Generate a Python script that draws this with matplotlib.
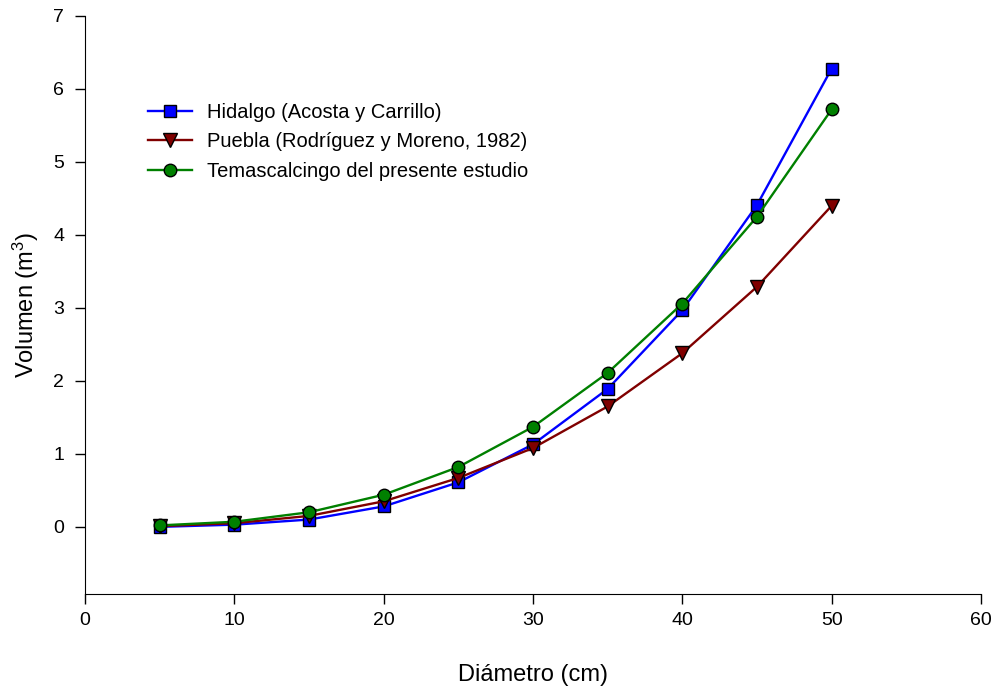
import matplotlib
matplotlib.use("Agg")
import matplotlib.pyplot as plt

plt.rcParams['font.family'] = ['Liberation Sans', 'DejaVu Sans']
plt.rcParams['mathtext.default'] = 'regular'

diametro = [5, 10, 15, 20, 25, 30, 35, 40, 45, 50]
hidalgo = [0.00, 0.03, 0.10, 0.28, 0.61, 1.13, 1.89, 2.97, 4.41, 6.28]
puebla = [0.01, 0.05, 0.15, 0.35, 0.67, 1.08, 1.65, 2.38, 3.29, 4.40]
temasc = [0.02, 0.07, 0.20, 0.44, 0.82, 1.37, 2.11, 3.06, 4.25, 5.72]

labels = ["Hidalgo (Acosta y Carrillo)",
          "Puebla (Rodríguez y Moreno, 1982)",
          "Temascalcingo del presente estudio"]
xticks = [0, 10, 20, 30, 40, 50, 60]
yticks = [0, 1, 2, 3, 4, 5, 6, 7]

fig = plt.figure(figsize=(9.95, 6.9), dpi=100)
ax = fig.add_axes([85/995, (690-594)/690, (981-85)/995, (594-16)/690])

ax.plot(diametro, hidalgo, color='#0000ff', lw=1.7, marker='s', ms=8.5,
        mfc='#0000ff', mec='black', mew=1.0, label=labels[0], zorder=3)
ax.plot(diametro, puebla, color='#800000', lw=1.7, marker='v', ms=10,
        mfc='#800000', mec='black', mew=1.0, label=labels[1], zorder=3)
ax.plot(diametro, temasc, color='#008000', lw=1.7, marker='o', ms=9,
        mfc='#008000', mec='black', mew=1.0, label=labels[2], zorder=4)

ax.set_xlim(0, 60)
ax.set_ylim(-0.92, 7)
ax.set_xticks(xticks)
ax.set_yticks(yticks)
ax.spines['top'].set_visible(False)
ax.spines['right'].set_visible(False)
ax.tick_params(direction='out', length=7, width=1.0, labelsize=14)
ax.tick_params(axis='y', pad=8)
ax.tick_params(axis='x', pad=6)

ax.set_xlabel("Diámetro (cm)", fontsize=17, labelpad=25)
ax.set_ylabel("Volumen (m$^{3}$)", fontsize=17, labelpad=9)

leg = ax.legend(loc='upper left', bbox_to_anchor=(0.07, 0.850), frameon=False,
                fontsize=14.5, handlelength=2.2, handletextpad=0.75,
                labelspacing=0.52, borderaxespad=0, borderpad=0)

fig.savefig("out.png", dpi=100)
